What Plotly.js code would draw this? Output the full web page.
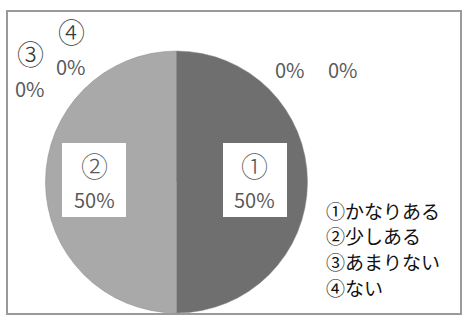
<!DOCTYPE html>
<html>
<head>
<meta charset="utf-8">
<script src="https://cdn.plot.ly/plotly-3.0.1.min.js"></script>
<style>html,body{margin:0;padding:0;background:#fff;}#chart{width:464px;height:322px;}</style>
</head>
<body>
<div id="chart"></div>
<script>
// Data
const nums = ['①', '②', '③', '④'];
const categories = ['①かなりある', '②少しある', '③あまりない', '④ない'];
const values = [50, 50, 0, 0];
const sliceColors = ['#6f6f6f', '#a9a9a9', '#c8c8c8', '#dcdcdc'];

const W = 464, H = 322;
const px = x => x / W;
const py = y => 1 - y / H;
const FONT = '"Noto Sans CJK JP", "Noto Sans", sans-serif';
const labelColor = '#5a5a5a';

const trace = {
  type: 'pie',
  values: values,
  labels: categories,
  sort: false,
  direction: 'clockwise',
  rotation: 0,
  textinfo: 'none',
  hoverinfo: 'none',
  marker: { colors: sliceColors, line: { color: '#8a8a8a', width: 0.5 } },
  domain: { x: [px(45.5), px(307.5)], y: [py(313), py(51)] },
  showlegend: false
};

const pct = v => v + '%';

// label positions (layout)
const boxPos = [
  { cx: 255, cy: 180 },
  { cx: 94, cy: 180 }
];
const numPos = [
  null, null,
  { x: 30, y: 54, px: 30, py: 88 },
  { x: 71, y: 32, px: 71, py: 66 }
];

const shapes = [
  // outer frame
  { type: 'rect', xref: 'paper', yref: 'paper', x0: px(7), x1: px(461), y0: py(314), y1: py(11),
    line: { color: '#9a9a9a', width: 2 }, fillcolor: 'rgba(0,0,0,0)' }
];
const annotations = [];

// boxed labels for slices 1 and 2
boxPos.forEach((b, i) => {
  shapes.push({ type: 'rect', xref: 'paper', yref: 'paper', layer: 'above',
    x0: px(b.cx - 32), x1: px(b.cx + 32), y0: py(b.cy + 37), y1: py(b.cy - 37),
    line: { width: 0 }, fillcolor: '#ffffff' });
  annotations.push({ xref: 'paper', yref: 'paper', x: px(b.cx), y: py(b.cy - 15), text: nums[i],
    showarrow: false, xanchor: 'center', yanchor: 'middle', font: { family: FONT, size: 27, weight: 300, color: labelColor } });
  annotations.push({ xref: 'paper', yref: 'paper', x: px(b.cx), y: py(b.cy + 19), text: pct(values[i]),
    showarrow: false, xanchor: 'center', yanchor: 'middle', font: { family: FONT, size: 20, color: labelColor } });
});

// outside labels for slices 3 and 4
[2, 3].forEach(i => {
  const p = numPos[i];
  annotations.push({ xref: 'paper', yref: 'paper', x: px(p.x), y: py(p.y), text: nums[i],
    showarrow: false, xanchor: 'center', yanchor: 'middle', font: { family: FONT, size: 27, weight: 300, color: '#3a3a3a' } });
  annotations.push({ xref: 'paper', yref: 'paper', x: px(p.px), y: py(p.py), text: pct(values[i]),
    showarrow: false, xanchor: 'center', yanchor: 'middle', font: { family: FONT, size: 20, color: labelColor } });
});

// the two "0%" labels at top right
const topZeroX = [290, 343];
[2, 3].forEach((i, k) => {
  annotations.push({ xref: 'paper', yref: 'paper', x: px(topZeroX[k]), y: py(70), text: pct(values[i]),
    showarrow: false, xanchor: 'center', yanchor: 'middle', font: { family: FONT, size: 20, color: labelColor } });
});

// legend text (no markers)
const legendY = [210, 235, 261, 287];
categories.forEach((c, i) => {
  annotations.push({ xref: 'paper', yref: 'paper', x: px(324), y: py(legendY[i]), text: c,
    showarrow: false, xanchor: 'left', yanchor: 'middle', font: { family: FONT, size: 19, color: '#111111' } });
});

const layout = {
  width: W, height: H,
  margin: { l: 0, r: 0, t: 0, b: 0 },
  paper_bgcolor: '#ffffff',
  plot_bgcolor: '#ffffff',
  showlegend: false,
  shapes: shapes,
  annotations: annotations
};

Plotly.newPlot('chart', [trace], layout, { displayModeBar: false, staticPlot: true });
</script>
</body>
</html>
